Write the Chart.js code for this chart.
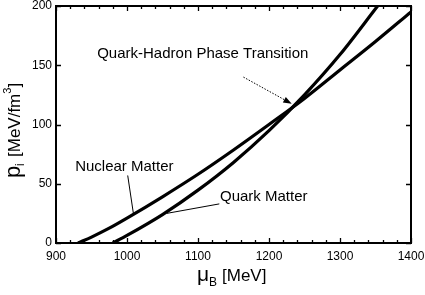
<!DOCTYPE html>
<html>
<head>
<meta charset="utf-8">
<script src="https://cdn.jsdelivr.net/npm/chart.js@4"></script>
<style>
  html, body { margin: 0; padding: 0; background: #fff; }
  #wrap { width: 425px; height: 295px; }
</style>
</head>
<body>
<div id="wrap"><canvas id="chart" width="425" height="295"></canvas></div>
<script>
// values
const nuclearMu = [931, 950, 975, 1000, 1050, 1100, 1150, 1200, 1250, 1300, 1350, 1400];
const nuclearP = [0, 5, 12.5, 21, 39, 58, 78.5, 100, 122, 146, 170, 195];
const quarkMu = [980, 1000, 1050, 1100, 1150, 1200, 1250, 1300, 1353];
const quarkP = [0, 6.4, 24, 44.6, 68, 94.8, 125, 159, 200];

const xTicks = [900, 1000, 1100, 1200, 1300, 1400];
const yTicks = [0, 50, 100, 150, 200];
const xMinorStep = 20;

const font = "'Liberation Sans', Arial, sans-serif";

// annotations, in data coordinates
const notes = [
    { text: "Quark-Hadron Phase Transition", mu: 958, p: 159.5 },
    { text: "Nuclear Matter", mu: 927, p: 64 },
    { text: "Quark Matter", mu: 1131, p: 39 },
];
const pointers = [
    { from: [1001, 57], to: [1009, 25] },
    { from: [1130, 33], to: [1056, 25] },
];
const arrow = { from: [1164, 140], to: [1232, 117.5] };

const decor = {
    id: "decor",
    afterDatasetsDraw(chart) {
        const ctx = chart.ctx;
        const xs = chart.scales.x;
        const ys = chart.scales.y;
        const a = chart.chartArea;
        ctx.save();

        // frame
        ctx.strokeStyle = "#000";
        ctx.lineWidth = 2;
        ctx.strokeRect(a.left, a.top, a.right - a.left, a.bottom - a.top);

        // inward ticks
        ctx.lineWidth = 1.3;
        ctx.beginPath();
        for (let v = xs.min; v <= xs.max; v += xMinorStep) {
            const px = Math.round(xs.getPixelForValue(v)) + 0.5;
            const len = xTicks.includes(v) ? 5 : 3;
            ctx.moveTo(px, a.bottom);
            ctx.lineTo(px, a.bottom - len);
            ctx.moveTo(px, a.top);
            ctx.lineTo(px, a.top + len);
        }
        yTicks.forEach((v) => {
            const py = Math.round(ys.getPixelForValue(v)) + 0.5;
            ctx.moveTo(a.left, py);
            ctx.lineTo(a.left + 5, py);
            ctx.moveTo(a.right, py);
            ctx.lineTo(a.right - 5, py);
        });
        ctx.stroke();

        // labels
        ctx.fillStyle = "#000";
        ctx.font = "15px " + font;
        ctx.textBaseline = "middle";
        ctx.textAlign = "left";
        notes.forEach((n) => {
            ctx.fillText(n.text, xs.getPixelForValue(n.mu), ys.getPixelForValue(n.p));
        });

        // pointer lines
        ctx.lineWidth = 1;
        ctx.beginPath();
        pointers.forEach((l) => {
            ctx.moveTo(xs.getPixelForValue(l.from[0]), ys.getPixelForValue(l.from[1]));
            ctx.lineTo(xs.getPixelForValue(l.to[0]), ys.getPixelForValue(l.to[1]));
        });
        ctx.stroke();

        // dotted arrow
        const x0 = xs.getPixelForValue(arrow.from[0]);
        const y0 = ys.getPixelForValue(arrow.from[1]);
        const x1 = xs.getPixelForValue(arrow.to[0]);
        const y1 = ys.getPixelForValue(arrow.to[1]);
        const ang = Math.atan2(y1 - y0, x1 - x0);
        ctx.setLineDash([1.5, 1.5]);
        ctx.beginPath();
        ctx.moveTo(x0, y0);
        ctx.lineTo(x1 - 7 * Math.cos(ang), y1 - 7 * Math.sin(ang));
        ctx.stroke();
        ctx.setLineDash([]);
        ctx.beginPath();
        ctx.moveTo(x1, y1);
        ctx.lineTo(x1 - 9 * Math.cos(ang - 0.35), y1 - 9 * Math.sin(ang - 0.35));
        ctx.lineTo(x1 - 9 * Math.cos(ang + 0.35), y1 - 9 * Math.sin(ang + 0.35));
        ctx.closePath();
        ctx.fill();

        // axis titles
        ctx.textBaseline = "alphabetic";
        ctx.font = "21px " + font;
        ctx.fillText("\u03bc", 197, 281);
        ctx.font = "12px " + font;
        ctx.fillText("B", 209, 286);
        ctx.font = "17px " + font;
        ctx.fillText("[MeV]", 222, 281);

        ctx.translate(20, 0);
        ctx.rotate(-Math.PI / 2);
        ctx.font = "22px " + font;
        ctx.fillText("p", -178, 0);
        ctx.font = "12px " + font;
        ctx.fillText("i", -166, 4);
        ctx.font = "17px " + font;
        ctx.fillText("[MeV/fm", -157, 0);
        const w = ctx.measureText("[MeV/fm").width;
        ctx.font = "11px " + font;
        ctx.fillText("3", -157 + w, -9);
        const w3 = ctx.measureText("3").width;
        ctx.font = "17px " + font;
        ctx.fillText("]", -157 + w + w3, 0);
        ctx.restore();
    },
};

new Chart(document.getElementById("chart").getContext("2d"), {
    type: "line",
    data: {
        datasets: [
            {
                label: "Nuclear Matter",
                data: nuclearMu.map((m, i) => ({ x: m, y: nuclearP[i] })),
                borderColor: "#000",
                borderWidth: 3.2,
                pointRadius: 0,
                cubicInterpolationMode: "monotone",
                fill: false,
            },
            {
                label: "Quark Matter",
                data: quarkMu.map((m, i) => ({ x: m, y: quarkP[i] })),
                borderColor: "#000",
                borderWidth: 3.2,
                pointRadius: 0,
                cubicInterpolationMode: "monotone",
                fill: false,
            },
        ],
    },
    options: {
        responsive: false,
        animation: false,
        layout: { padding: { top: 6, right: 14, left: 0, bottom: 0 } },
        plugins: { legend: { display: false }, tooltip: { enabled: false } },
        scales: {
            x: {
                type: "linear",
                min: 900,
                max: 1400,
                afterFit: (s) => {
                    s.height = 52;
                    s.paddingLeft = 0;
                    s.paddingRight = 0;
                },
                afterBuildTicks: (s) => { s.ticks = xTicks.map((v) => ({ value: v })); },
                grid: { display: false, drawTicks: false },
                border: { display: false },
                ticks: { color: "#000", padding: 6, font: { family: font, size: 12 }, callback: (v) => String(v) },
            },
            y: {
                min: 0,
                max: 200,
                afterFit: (s) => {
                    s.width = 56;
                    s.paddingTop = 0;
                    s.paddingBottom = 0;
                },
                afterBuildTicks: (s) => { s.ticks = yTicks.map((v) => ({ value: v })); },
                grid: { display: false, drawTicks: false },
                border: { display: false },
                ticks: { color: "#000", padding: 4, font: { family: font, size: 12 }, callback: (v) => String(v) },
            },
        },
    },
    plugins: [decor],
});
</script>
</body>
</html>
